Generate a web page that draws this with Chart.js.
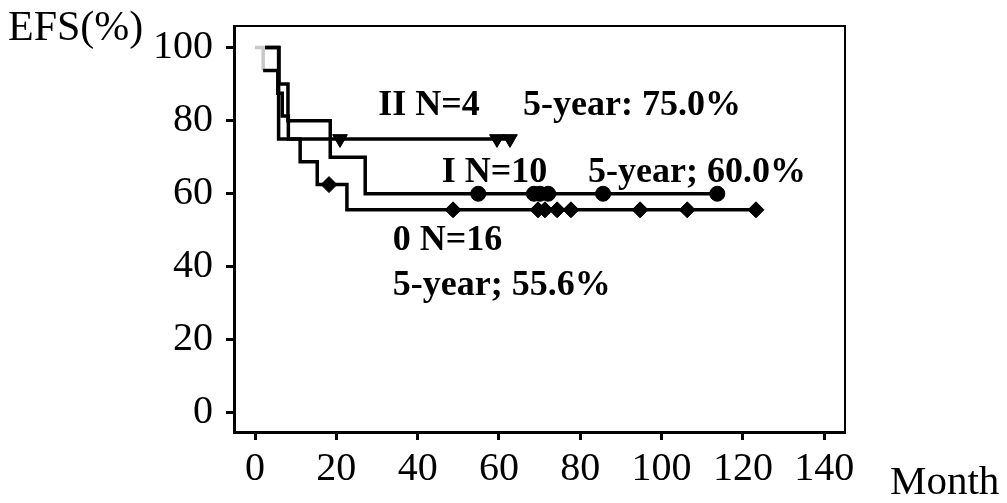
<!DOCTYPE html>
<html>
<head>
<meta charset="utf-8">
<script src="https://cdn.jsdelivr.net/npm/chart.js@4.4.0/dist/chart.umd.min.js"></script>
<style>
html,body{margin:0;padding:0;background:#fff;}
#wrap{width:1007px;height:503px;position:relative;}
</style>
</head>
<body>
<div id="wrap"><canvas id="c" width="1007" height="503"></canvas></div>
<script>
// ---- data (months, EFS %) ----
const xTickValues = [0, 20, 40, 60, 80, 100, 120, 140];
const yTickValues = [0, 20, 40, 60, 80, 100];

// Group 0, N=16
const g0Times  = [0, 2.0, 5.6, 6.7, 8.2, 11.1, 15.3, 22.6, 123.2];
const g0Surv   = [100, 93.75, 87.5, 81.25, 75, 68.75, 62.5, 55.6, 55.6];
const g0Censor = [18.2, 48.7, 69.6, 71.3, 74.3, 77.7, 94.7, 106.3, 123.2];

// Group I, N=10
const g1Times  = [2.5, 5.9, 8.1, 18.5, 27.1, 113.7];
const g1Surv   = [100, 90, 80, 70, 60, 60];
const g1Censor = [54.9, 68.6, 70.1, 72.1, 85.6, 113.7];

// Group II, N=4
const g2Times  = [2.5, 5.8, 62.7];
const g2Surv   = [100, 75, 75];
const g2Censor = [20.9, 59.5, 62.7];

const labelTexts = ['II N=4', '5-year: 75.0%', 'I N=10', '5-year; 60.0%', '0 N=16', '5-year; 55.6%'];

// ---- layout (text anchors in data coordinates) ----
const labelAnchors = [
  {x: 30.3, y: 81.6}, {x: 65.9, y: 81.6},
  {x: 45.9, y: 63.3}, {x: 81.9, y: 63.3},
  {x: 33.9, y: 44.6}, {x: 33.9, y: 32.3}
];

function curvePoints(times, surv) {
  return times.map((t, i) => ({x: t, y: surv[i]}));
}
function levelAt(times, surv, t) {
  let v = surv[0];
  for (let i = 0; i < times.length; i++) { if (times[i] <= t) v = surv[i]; }
  return v;
}
function censorPoints(times, surv, cens) {
  return cens.map(t => ({x: t, y: levelAt(times, surv, t)}));
}

const lineBase = {type: 'line', stepped: true, borderColor: '#000', borderWidth: 3.5, pointRadius: 0, fill: false, order: 2};
const markBase = {type: 'scatter', showLine: false, backgroundColor: '#000', borderColor: '#000', borderWidth: 1, order: 1};

const textPlugin = {
  id: 'texts',
  afterDraw(chart) {
    const {ctx, chartArea: a, scales: {x, y}} = chart;
    ctx.save();
    ctx.strokeStyle = '#000';
    ctx.lineWidth = 2;
    ctx.beginPath();
    ctx.moveTo(a.left, a.top);
    ctx.lineTo(a.right, a.top);
    ctx.lineTo(a.right, a.bottom);
    ctx.stroke();
    ctx.fillStyle = '#000';
    ctx.textAlign = 'left';
    ctx.textBaseline = 'alphabetic';
    ctx.font = 'bold 36px "Liberation Serif"';
    labelTexts.forEach((t, i) => {
      ctx.fillText(t, x.getPixelForValue(labelAnchors[i].x), y.getPixelForValue(labelAnchors[i].y));
    });
    ctx.font = '42px "Liberation Serif"';
    ctx.fillText('EFS(%)', 8, 40);
    ctx.font = '41px "Liberation Serif"';
    ctx.fillText('Month', 890, 494);
    ctx.restore();
  }
};

const tickFont = {family: '"Liberation Serif"', size: 40};

new Chart(document.getElementById('c'), {
  data: {
    datasets: [
      Object.assign({}, markBase, {label: 'II censored', data: censorPoints(g2Times, g2Surv, g2Censor), pointStyle: 'triangle', pointRotation: 180, pointRadius: 8.5}),
      Object.assign({}, markBase, {label: 'I censored', data: censorPoints(g1Times, g1Surv, g1Censor), pointStyle: 'circle', pointRadius: 7.5}),
      Object.assign({}, markBase, {label: '0 censored', data: censorPoints(g0Times, g0Surv, g0Censor), pointStyle: 'rectRot', pointRadius: 8}),
      Object.assign({}, lineBase, {label: 'II', data: curvePoints(g2Times, g2Surv)}),
      Object.assign({}, lineBase, {label: 'I', data: curvePoints(g1Times, g1Surv)}),
      Object.assign({}, lineBase, {label: '0', data: curvePoints(g0Times, g0Surv),
        segment: {borderColor: c => c.p0DataIndex === 0 ? '#c8c8c8' : '#000'}})
    ]
  },
  options: {
    responsive: false,
    animation: false,
    devicePixelRatio: 1,
    layout: {padding: {top: 26, right: 162, left: 0, bottom: 0}},
    plugins: {legend: {display: false}, tooltip: {enabled: false}},
    scales: {
      x: {
        type: 'linear', position: 'bottom', min: -5.17, max: 145.1,
        afterFit: s => { s.height = 71; s.paddingLeft = 0; s.paddingRight = 0; },
        afterBuildTicks: s => { s.ticks = xTickValues.map(v => ({value: v})); },
        border: {display: true, color: '#000', width: 3},
        grid: {display: true, drawOnChartArea: false, drawTicks: true, tickLength: 8, tickColor: '#000', tickWidth: 3, color: '#000'},
        ticks: {font: tickFont, color: '#000', padding: 5, maxRotation: 0, autoSkip: false}
      },
      y: {
        type: 'linear', position: 'left', min: -5.2, max: 105.9,
        afterFit: s => { s.width = 234; s.paddingTop = 0; s.paddingBottom = 0; },
        afterBuildTicks: s => { s.ticks = yTickValues.map(v => ({value: v})); },
        border: {display: true, color: '#000', width: 3},
        grid: {display: true, drawOnChartArea: false, drawTicks: true, tickLength: 8, tickColor: '#000', tickWidth: 3, color: '#000'},
        ticks: {font: tickFont, color: '#000', padding: 13, autoSkip: false}
      }
    }
  },
  plugins: [textPlugin]
});
</script>
</body>
</html>
